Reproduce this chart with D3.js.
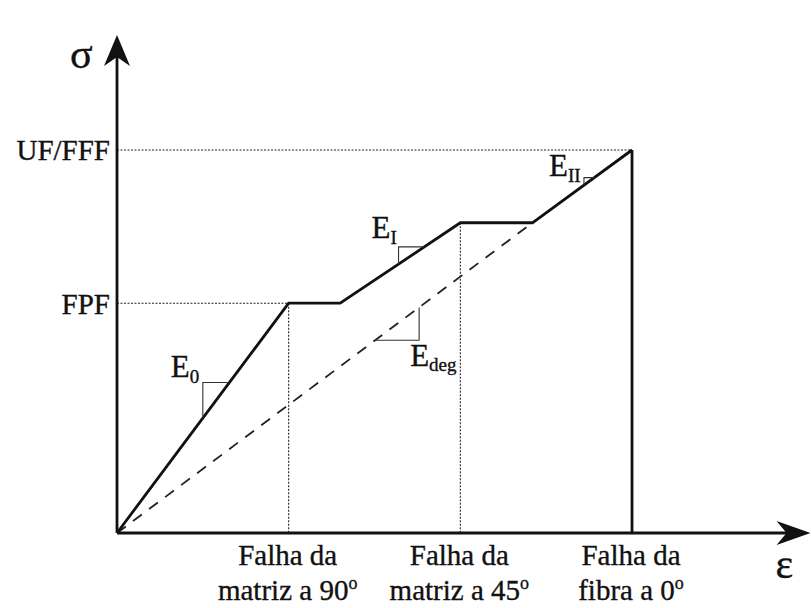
<!DOCTYPE html>
<html>
<head>
<meta charset="utf-8">
<script src="https://cdn.jsdelivr.net/npm/d3@7/dist/d3.min.js"></script>
<style>
  html, body { margin: 0; padding: 0; background: #fff; }
  svg { display: block; }
  text { font-family: "Liberation Serif", "Times New Roman", serif; fill: #111; stroke: #111; stroke-width: 0.35px; }
</style>
</head>
<body>
<svg id="chart" width="811" height="608"></svg>
<script>
// Idealised stress–strain response of a cross-ply laminate (normalised units)
const strainPts = [0, 1.0, 1.3, 2.0, 2.42, 3.0];
const stressPts = [0, 0.6, 0.6, 0.81, 0.81, 1.0];

// secant (degraded) modulus line: from origin to the end of the second plateau
const degStrain = [0, 2.42];
const degStress = [0, 0.81];

// stress levels marked on the vertical axis
const yTickValues = [0.6, 1.0];
const yTickLabels = ["FPF", "UF/FFF"];

// failure events marked under the strain axis
const xTickValues = [1.0, 2.0, 3.0];
const xTickLines1 = ["Falha da", "Falha da", "Falha da"];
const xTickLines2 = ["matriz a 90", "matriz a 45", "fibra a 0"];

// slope triangles: [strain start, strain end] on a segment
const slopeNames = ["0", "I", "II"];
const slopeStart = [0.50, 1.64, 2.72];
const slopeEnd   = [0.655, 1.79, 2.78];
const degSlopeStart = 1.503, degSlopeEnd = 1.76;

const xMax = 4.04, yMax = 1.30;

const svg = d3.select("#chart");
const x = d3.scaleLinear().domain([0, 4]).range([117, 117 + 4 * 171.67]);
const y = d3.scaleLinear().domain([0, 1]).range([533, 150]);

const pts = strainPts.map((s, i) => [s, stressPts[i]]);
const curve = d3.line().x(d => x(d[0])).y(d => y(d[1]));
const stressAt = s => {
  for (let i = 1; i < pts.length; i++) {
    if (s <= pts[i][0]) {
      const [x0, y0] = pts[i - 1], [x1, y1] = pts[i];
      return y0 + (y1 - y0) * (s - x0) / (x1 - x0);
    }
  }
  return pts[pts.length - 1][1];
};
const degAt = s => degStress[1] * s / degStrain[1];

// reference lines to the axes
const guide = svg.append("g").attr("fill", "none").attr("stroke", "#223").attr("stroke-width", 1.1);
// horizontal guides at FPF and UF/FFF
[[0.6, 1.0], [1.0, 3.0]].forEach(([sv, sx]) => {
  guide.append("line")
    .attr("x1", x(0)).attr("x2", x(sx))
    .attr("y1", y(sv)).attr("y2", y(sv))
    .attr("stroke-dasharray", "2,1.5");
});
// vertical guides at the onset of each plateau
[1.0, 2.0].forEach(sx => {
  guide.append("line")
    .attr("x1", x(sx)).attr("x2", x(sx))
    .attr("y1", y(stressAt(sx))).attr("y2", y(0))
    .attr("stroke-dasharray", "2,1.5");
});

// degraded modulus dashed line
svg.append("line")
  .attr("x1", x(degStrain[0])).attr("y1", y(degStress[0]))
  .attr("x2", x(degStrain[1])).attr("y2", y(degStress[1]))
  .attr("stroke", "#222").attr("stroke-width", 1.8)
  .attr("stroke-dasharray", "11,9");

// final fibre failure drop
svg.append("line")
  .attr("x1", x(3.0)).attr("x2", x(3.0))
  .attr("y1", y(1.0)).attr("y2", y(0))
  .attr("stroke", "#111").attr("stroke-width", 2.8);

// main response curve
svg.append("path")
  .attr("d", curve(pts))
  .attr("fill", "none").attr("stroke", "#111").attr("stroke-width", 2.8)
  .attr("stroke-linejoin", "round");

// slope triangles on the response curve
const tri = svg.append("g").attr("fill", "none").attr("stroke", "#333").attr("stroke-width", 1.1);
const labelOff = [[-32, -5], [-27, -9], [-35, -2]];
slopeStart.forEach((s0, i) => {
  const s1 = slopeEnd[i];
  const cx = x(s0), cy = y(stressAt(s1));
  tri.append("path").attr("d",
    `M${cx},${y(stressAt(s0))}L${cx},${cy}L${x(s1)},${cy}`);
  const t = svg.append("text")
    .attr("x", cx + labelOff[i][0]).attr("y", cy + labelOff[i][1])
    .attr("font-size", 31);
  t.append("tspan").text("E");
  t.append("tspan").attr("font-size", 19).attr("dy", 6).text(slopeNames[i]);
});

// degraded slope triangle (below the dashed line)
{
  const by = y(degAt(degSlopeStart));
  tri.append("path").attr("d",
    `M${x(degSlopeStart)},${by}L${x(degSlopeEnd)},${by}L${x(degSlopeEnd)},${y(degAt(degSlopeEnd))}`);
  const t = svg.append("text")
    .attr("x", x(degSlopeEnd) - 9).attr("y", by + 26)
    .attr("font-size", 31);
  t.append("tspan").text("E");
  t.append("tspan").attr("font-size", 19).attr("dy", 5).text("deg");
}

// axes with arrowheads
const axes = svg.append("g");
axes.append("line")
  .attr("x1", x(0)).attr("y1", y(0)).attr("x2", x(xMax) - 20).attr("y2", y(0))
  .attr("stroke", "#111").attr("stroke-width", 2.8);
axes.append("line")
  .attr("x1", x(0)).attr("y1", y(0)).attr("x2", x(0)).attr("y2", y(yMax) + 20)
  .attr("stroke", "#111").attr("stroke-width", 2.8);
{
  const tx = x(xMax), ty = y(0);
  axes.append("path")
    .attr("d", `M${tx},${ty}L${tx - 34},${ty - 12}L${tx - 24},${ty}L${tx - 34},${ty + 12}Z`)
    .attr("fill", "#111");
  const ux = x(0), uy = y(yMax);
  axes.append("path")
    .attr("d", `M${ux},${uy}L${ux - 13},${uy + 31}L${ux},${uy + 22}L${ux + 13},${uy + 31}Z`)
    .attr("fill", "#111");
}

// axis titles
svg.append("text").attr("x", x(0) - 47).attr("y", y(yMax) + 33)
  .attr("font-size", 42).text("σ");
svg.append("text").attr("x", x(xMax) - 35).attr("y", y(0) + 45)
  .attr("font-size", 42).text("ε");

// stress level labels
const yAxis = d3.axisLeft(y).tickValues(yTickValues)
  .tickFormat((d, i) => yTickLabels[i]).tickSize(0).tickPadding(7);
const yg = svg.append("g").attr("transform", `translate(${x(0)},0)`).call(yAxis);
yg.select(".domain").remove();
yg.selectAll("text")
  .attr("font-size", 29).attr("font-family", "Liberation Serif, serif")
  .attr("fill", "#111").attr("dy", "0.34em");

// failure event labels
const xl = svg.append("g").attr("text-anchor", "middle").attr("font-size", 29);
xTickValues.forEach((v, i) => {
  xl.append("text").attr("x", x(v) - 1).attr("y", y(0) + 32).text(xTickLines1[i]);
  const t = xl.append("text").attr("x", x(v) - 1).attr("y", y(0) + 67);
  t.append("tspan").text(xTickLines2[i]);
  t.append("tspan").attr("font-size", 18).attr("dy", -11).text("o");
});
</script>
</body>
</html>
